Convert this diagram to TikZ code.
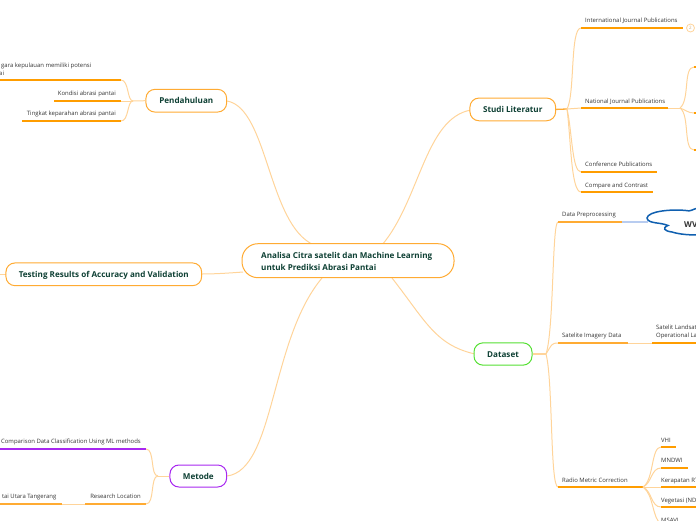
\documentclass[tikz,border=0pt]{standalone}
\usepackage{fontspec}
\setmainfont{Open Sans}
\definecolor{org}{HTML}{FF9D00}
\definecolor{org2}{HTML}{FFAB33}
\definecolor{lorg}{HTML}{FFD49A}
\definecolor{dk}{HTML}{0E4034}
\definecolor{pur}{HTML}{A828F0}
\definecolor{grn}{HTML}{55E033}
\definecolor{tx}{HTML}{333333}
\definecolor{blu}{HTML}{1060B0}
\definecolor{lblu}{HTML}{B8CCF0}
\tikzset{x=1pt,y=-1pt,
 topic/.style={draw=org2,line width=1pt,rounded corners=9pt,fill=white,text=dk,font=\fontsize{8.1}{11}\selectfont\bfseries,inner sep=0pt,text height=7pt,text depth=1pt},
 lab/.style={text=tx,font=\fontsize{5.95}{9}\selectfont,inner sep=0pt,anchor=base west,align=left},
 labr/.style={text=tx,font=\fontsize{5.95}{9}\selectfont,inner sep=0pt,anchor=base east,align=right},
 conn/.style={draw=lorg,line width=1pt},
 ul/.style={draw=org,line width=1.3pt},
 ulb/.style={draw=org2,line width=1.3pt}}
\begin{document}
\begin{tikzpicture}
\useasboundingbox (0,0) rectangle (696,520);
% main connectors
\coordinate (pd) at (227,101);\coordinate (sl) at (471,110);\coordinate (ds) at (475,354);\coordinate (mt) at (227,476);\coordinate (ts) at (202,274);\coordinate (cl) at (243,272);\coordinate (ts0) at (0,274);
\draw[conn] (pd) .. controls (268,108) and (268,225) .. (314,245);
\draw[conn] (sl) .. controls (425,118) and (420,200) .. (382,245);
\draw[conn] (ds) .. controls (435,345) and (425,320) .. (392,278);
\draw[conn] (mt) .. controls (275,470) and (270,340) .. (322,278);
\draw[conn] (ts) .. controls (215,274) and (230,273) .. (cl);
\draw[conn] (ts0) -- (6,274);
% center
\node[topic,minimum width=212pt,minimum height=34pt,rounded corners=16pt] (c) at (348,260.7) {};
\node[text=dk,font=\fontsize{8.1}{11.6}\selectfont\bfseries,inner sep=0pt,anchor=west,align=left] (ct) at (261,261.2) {Analisa Citra satelit dan Machine Learning\\untuk Prediksi Abrasi Pantai};
% topics
\node[topic,minimum width=80.7pt,minimum height=22.7pt] (np) at (186.3,100.7) {Pendahuluan};
\node[topic,minimum width=195.7pt,minimum height=22.7pt] (nt) at (103.8,274.3) {Testing Results of Accuracy and Validation};
\node[topic,draw=pur,minimum width=56.7pt,minimum height=22pt] (nm) at (198.3,476) {Metode};
\node[topic,minimum width=85.7pt,minimum height=22.7pt] (ns) at (512.8,109.4) {Studi Literatur};
\node[topic,draw=grn,minimum width=58pt,minimum height=22.3pt] (nd) at (503,354) {Dataset};
% Pendahuluan children
\coordinate (pj) at (133,101);
\draw[conn] (np.west) -- (pj);
\draw[conn] (pj) .. controls (127,101) and (129,80) .. (121,80);
\draw[conn] (pj) -- (121,101);
\draw[conn] (pj) .. controls (127,101) and (129,121) .. (121,121);
\draw[ul] (-2,80) -- (121,80);
\draw[ul] (54,101) -- (121,101);
\draw[ul] (22,121) -- (121,121);
\node[labr] (p1) at (91.5,67) {gara kepulauan memiliki potensi};
\node[lab] (p1b) at (-1,75.5) {ai};
\node[labr] (p2) at (116,95) {Kondisi abrasi pantai};
\node[labr] (p3) at (116,115) {Tingkat keparahan abrasi pantai};
% Metode children
\coordinate (mj) at (158,476);
\draw[conn] (nm.west) -- (mj);
\draw[conn] (mj) .. controls (150,476) and (155,449) .. (146,449);
\draw[conn] (mj) .. controls (150,476) and (155,504) .. (146,504);
\draw[draw=pur,line width=1.3pt] (-2,449) -- (146,449);
\draw[ulb] (85,504) -- (146,504);
\draw[conn] (62,504) -- (85,504);
\draw[ulb] (-2,504) -- (62,504);
\node[labr] (m1) at (141,443.5) {Comparison Data Classification Using ML methods};
\node[labr] (m2) at (141,498.5) {Research Location};
\node[labr] (m3) at (56.5,498.5) {tai Utara Tangerang};
% Studi children
\coordinate (sj) at (567,109);
\draw[ulb] (ns.east) -- (sj);
\draw[conn] (sj) .. controls (575,95) and (570,28) .. (581,28);
\draw[conn] (sj) -- (581,108);
\draw[conn] (sj) .. controls (572,130) and (572,172) .. (581,172);
\draw[conn] (sj) .. controls (571,140) and (571,192) .. (581,192);
\draw[ul] (581,28) -- (683,28);
\draw[ul] (581,108) -- (668,108);
\draw[ul] (581,172) -- (657,172);
\draw[ul] (581,192) -- (653,192);
\node[lab] (s1) at (585,22) {International Journal Publications};
\node[lab] (s2) at (585,103) {National Journal Publications};
\node[lab] (s3) at (585,166.5) {Conference Publications};
\node[lab] (s4) at (585,187) {Compare and Contrast};
\node[circle,draw=lorg,line width=0.8pt,minimum size=8pt,inner sep=0pt,text=lorg!80!black,font=\fontsize{4.5}{5}\selectfont] (s5) at (690.5,28) {2};
\coordinate (nj) at (680,108);
\draw[conn] (668,108) -- (nj);
\draw[conn] (nj) .. controls (690,100) and (683,67) .. (694,67);
\draw[conn] (nj) .. controls (686,110) and (688,113) .. (694,113);
\draw[conn] (nj) .. controls (690,115) and (683,150) .. (694,150);
\draw[ul] (694,67) -- (697,67);
\draw[ul] (694,113) -- (697,113);
\draw[ul] (694,150) -- (697,150);
% Dataset children
\coordinate (dj) at (546,354);
\draw[conn,line width=1.4pt] (nd.east) -- (dj);
\draw[conn] (dj) .. controls (554,330) and (552,222) .. (558,222);
\draw[conn] (dj) .. controls (552,344) and (552,343) .. (558,343);
\draw[conn] (dj) .. controls (553,380) and (550,487) .. (558,487);
\draw[ulb] (558,222) -- (622,222);
\draw[ulb] (558,343) -- (628,343);
\draw[conn] (628,343) -- (652,343);
\draw[ul] (652,343) -- (697,343);
\draw[ul] (558,487) -- (643,487);
\node[lab] (d1) at (562,216) {Data Preprocessing};
\node[lab] (d2) at (562,337) {Satelite Imagery Data};
\node[lab] (d3) at (562,482) {Radio Metric Correction};
\node[lab] (d4) at (656,329) {Satelit Landsat};
\node[lab] (d5) at (656,337) {Operational La};
\draw[draw=lblu,line width=1.3pt] (622,222) -- (648,222);
\draw[draw=blu,line width=1.5pt,fill=white] (698,208) .. controls (693,209) and (690,212) .. (686,210.5) .. controls (672,209) and (648,211) .. (647,218) .. controls (648,224) and (660,222) .. (668,225.5) .. controls (662,228) and (664,231) .. (672,232) .. controls (680,234.5) and (690,235) .. (698,235);
\node[text=tx,font=\fontsize{8.1}{9}\selectfont\bfseries,inner sep=0pt,anchor=base west] (d6) at (684,227) {WV};
\coordinate (rj) at (643,487);
\draw[conn] (rj) .. controls (654,480) and (651,447) .. (661,447);
\draw[conn] (rj) .. controls (652,483) and (651,468) .. (661,468);
\draw[conn] (rj) -- (661,487);
\draw[conn] (rj) .. controls (652,491) and (651,507) .. (661,507);
\draw[conn] (rj) .. controls (654,495) and (652,518) .. (661,524);
\draw[ul] (661,447) -- (676,447);
\draw[ul] (661,468) -- (688,468);
\draw[ul] (661,487) -- (697,487);
\draw[ul] (661,507) -- (697,507);
\node[lab] (r1) at (661,442) {VHI};
\node[lab] (r2) at (661,462) {MNDWI};
\node[lab] (r3) at (661,482) {Kerapatan RT};
\node[lab] (r4) at (661,502) {Vegetasi (ND};
\node[lab] (r5) at (661,522) {MSAVI};
\end{tikzpicture}
\end{document}
